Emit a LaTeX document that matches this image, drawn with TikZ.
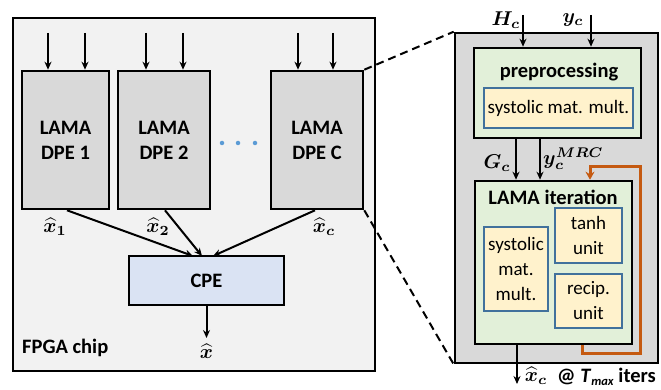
\documentclass[tikz,border=0pt]{standalone}
\usepackage{fontspec}
\usepackage{bm}
\usepackage{graphicx}
\setmainfont{Carlito}
\usetikzlibrary{arrows.meta}
\definecolor{chipbg}{HTML}{F2F2F2}
\definecolor{dpegray}{HTML}{D9D9D9}
\definecolor{cpeblue}{HTML}{DAE3F3}
\definecolor{lightgreen}{HTML}{E2F0D9}
\definecolor{cream}{HTML}{FFF2CC}
\definecolor{unitblue}{HTML}{41719C}
\definecolor{loopor}{HTML}{C55A11}
\definecolor{dotblue}{HTML}{5B9BD5}
% math labels: set at 10pt and scaled up
\newcommand{\bigmath}[1]{\scalebox{2.0}{\fontsize{10}{12}\selectfont$\bm{#1}$}}
\tikzset{
  box/.style={draw=black, line width=2.6pt, minimum width=#1, inner sep=0pt},
  unitbox/.style={draw=unitblue, line width=2.2pt, fill=cream, inner sep=0pt, align=center},
  arr/.style={draw=black, line width=2pt, -{Stealth[length=8pt,width=7pt]}},
  fbarr/.style={draw=loopor, line width=3pt, -{Stealth[length=8pt,width=9pt]}},
  zoomline/.style={draw=black, line width=2pt, dash pattern=on 8pt off 5pt},
  lbl/.style={inner sep=0pt},
  boldtxt/.style={font=\fontsize{20.5}{25}\selectfont\bfseries},
}
\begin{document}
\begin{tikzpicture}[x=1pt, y=-1pt, font=\fontsize{19}{25}\selectfont]
\useasboundingbox (0,0) rectangle (661,390);

% ---------- FPGA chip ----------
\node[box=362pt, minimum height=353pt, fill=chipbg] (chip) at (194,194.5) {};
\node[box=87pt, minimum height=138pt, fill=dpegray, align=center, boldtxt] (dpe1) at (65.5,140) {LAMA\\DPE 1};
\node[box=92pt, minimum height=138pt, fill=dpegray, align=center, boldtxt] (dpe2) at (164,140) {LAMA\\DPE 2};
\node[box=92pt, minimum height=138pt, fill=dpegray, align=center, boldtxt] (dpec) at (317,140) {LAMA\\DPE C};
\node[box=155pt, minimum height=49pt, fill=cpeblue, boldtxt] (cpe) at (206.5,280.5) {CPE};

% ellipsis between DPE 2 and DPE C
\foreach \dx/\nm in {222/d1,238/d2,255/d3}
  \node[circle, fill=dotblue, inner sep=0pt, minimum size=4.5pt] (\nm) at (\dx,143) {};

% inputs of the DPEs
\foreach \ix/\nm/\tg in {48/i11/dpe1, 85/i12/dpe1, 146/i21/dpe2, 183/i22/dpe2, 298/ic1/dpec, 333/ic2/dpec}{
  \coordinate (\nm) at (\ix,33);
  \draw[arr] (\nm) -- (\nm |- \tg.north);
}

% DPE outputs to CPE
\coordinate (t1) at (193,256);
\coordinate (t2) at (202,256);
\coordinate (tc) at (213,256);
\draw[arr] ([xshift=1.5pt]dpe1.south) -- (t1);
\draw[arr] ([xshift=1pt]dpe2.south) -- (t2);
\draw[arr] ([xshift=-2pt]dpec.south) -- (tc);
\node[lbl] (lx1) at (55,227) {\bigmath{\widehat{x}_1}};
\node[lbl] (lx2) at (158,227) {\bigmath{\widehat{x}_2}};
\node[lbl] (lxc) at (324,227) {\bigmath{\widehat{x}_c}};

% CPE output
\coordinate (xout) at (206.5,338);
\draw[arr] (cpe.south) -- (xout);
\node[lbl] (lx) at (206.5,351) {\bigmath{\widehat{x}}};
\node[lbl, anchor=west, boldtxt] (chiplbl) at (22,348) {FPGA chip};

% ---------- DPE detail ----------
\node[box=203pt, minimum height=330pt, fill=dpegray] (outer) at (556.5,198) {};
\draw[zoomline] (dpec.north east) -- (outer.north west);
\draw[zoomline] (dpec.south east) -- (outer.south west);

\node[box=167pt, minimum height=90pt, fill=lightgreen] (pre) at (557.5,93) {};
\node[lbl, boldtxt] (prelbl) at (559,72) {preprocessing};
\node[unitbox, minimum width=149pt, minimum height=40pt] (sys1) at (558.5,108) {systolic mat. mult.};

% inputs H_c and y_c
\coordinate (hin) at (523,15);
\coordinate (yin) at (591,15);
\draw[arr] (hin) -- (hin |- pre.north);
\draw[arr] (yin) -- (yin |- pre.north);
\node[lbl] (lh) at (506,20) {\bigmath{H_c}};
\node[lbl] (ly) at (573,20) {\bigmath{y_c}};

% LAMA iteration block
\node[box=157pt, minimum height=163pt, fill=lightgreen] (iter) at (553.5,262.5) {};
\node[lbl, boldtxt] (iterlbl) at (553,197) {LAMA iteration};
\node[unitbox, minimum width=64pt, minimum height=84pt] (sys2) at (516,269) {systolic\\mat.\\mult.};
\node[unitbox, minimum width=67pt, minimum height=55pt] (tanh) at (588.5,235.5) {tanh\\unit};
\node[unitbox, minimum width=67pt, minimum height=54pt] (recip) at (588.5,301) {recip.\\unit};

% preprocessing -> iteration
\coordinate (gx) at (516,0);
\coordinate (mx) at (540,0);
\draw[arr] (pre.south -| gx) -- (iter.north -| gx);
\draw[arr] (pre.south -| mx) -- (iter.north -| mx);
\node[lbl] (lg) at (497,163) {\bigmath{G_c}};
\node[lbl, anchor=west] (lm) at (543,159) {\bigmath{y_c^{MRC}}};

% feedback loop over iterations
\coordinate (fbx) at (582,0);
\coordinate (fbc) at (640,353);
\coordinate (fbt) at (590,167);
\draw[fbarr] (iter.south -| fbx) |- (fbc) |- (fbt) -- (fbt |- iter.north);

% iteration output
\coordinate (xcout) at (517,384);
\draw[arr] (iter.south -| xcout) -- (xcout);
\node[lbl] (lxco) at (536,376) {\bigmath{\widehat{x}_c}};
\node[lbl, anchor=west, boldtxt] (tmax) at (557,377)
  {@ \textit{T}\raisebox{-0.35ex}{\fontsize{12.5}{12.5}\selectfont\textit{max}} iters};
\end{tikzpicture}
\end{document}
